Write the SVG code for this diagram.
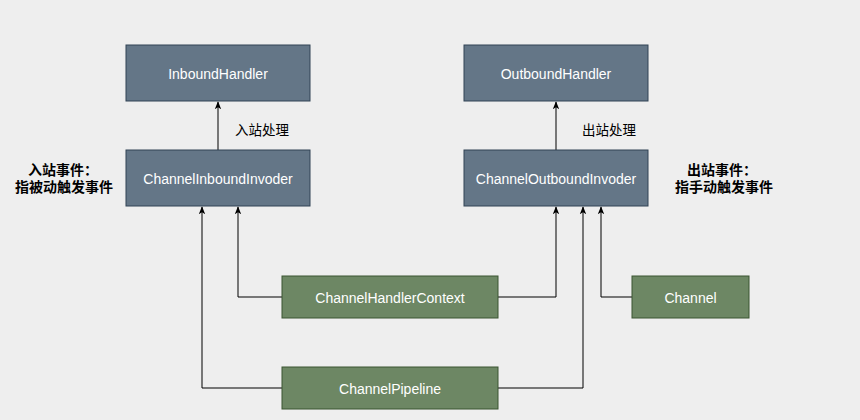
<svg xmlns="http://www.w3.org/2000/svg" width="860" height="420" viewBox="0 0 860 420">
<style>
.blue{fill:#647687;stroke:#314354;stroke-width:1}
.green{fill:#6d8764;stroke:#3a5431;stroke-width:1}
.t{fill:#ffffff;font-family:"Liberation Sans",Arial,sans-serif;font-size:14px;text-anchor:middle;dominant-baseline:central}
.c{fill:none;stroke:#000000;stroke-width:1}
.lbl{fill:#000000;font-family:"Liberation Sans","Noto Sans CJK SC",sans-serif;font-size:13.5px;text-anchor:middle;dominant-baseline:central}
.b{font-weight:bold;font-size:14px}
</style>
<defs>
<marker id="ah" viewBox="0 0 10 10" refX="9" refY="5" markerWidth="8" markerHeight="8" markerUnits="userSpaceOnUse" orient="auto">
<path d="M0,1 L10,5 L0,9 L2.5,5 Z" fill="#000000"/>
</marker>
</defs>
<rect width="860" height="420" fill="#eeeeee"/>
<g id="connectors">
<path class="c" d="M218,150 L218,102" marker-end="url(#ah)"/>
<path class="c" d="M556,150 L556,102" marker-end="url(#ah)"/>
<path class="c" d="M282,297 L238,297 L238,207" marker-end="url(#ah)"/>
<path class="c" d="M282,388 L202,388 L202,207" marker-end="url(#ah)"/>
<path class="c" d="M498,297 L556,297 L556,207" marker-end="url(#ah)"/>
<path class="c" d="M498,388 L583,388 L583,207" marker-end="url(#ah)"/>
<path class="c" d="M632,297 L601,297 L601,207" marker-end="url(#ah)"/>
</g>
<g id="InboundHandler">
<rect class="blue" x="126" y="45" width="184" height="56"/>
<text class="t" x="218" y="74">InboundHandler</text>
</g>
<g id="OutboundHandler">
<rect class="blue" x="464" y="45" width="184" height="56"/>
<text class="t" x="556" y="74">OutboundHandler</text>
</g>
<g id="ChannelInboundInvoder">
<rect class="blue" x="126" y="150" width="184" height="56"/>
<text class="t" x="218" y="179">ChannelInboundInvoder</text>
</g>
<g id="ChannelOutboundInvoder">
<rect class="blue" x="464" y="150" width="184" height="56"/>
<text class="t" x="556" y="179">ChannelOutboundInvoder</text>
</g>
<g id="ChannelHandlerContext">
<rect class="green" x="282" y="276" width="216" height="42"/>
<text class="t" x="390" y="298">ChannelHandlerContext</text>
</g>
<g id="ChannelPipeline">
<rect class="green" x="282" y="367" width="216" height="42"/>
<text class="t" x="390" y="389">ChannelPipeline</text>
</g>
<g id="Channel">
<rect class="green" x="632" y="276" width="117" height="42"/>
<text class="t" x="690.5" y="298">Channel</text>
</g>
<g id="labels">
<text class="lbl" x="262" y="130">入站处理</text>
<text class="lbl" x="609" y="130">出站处理</text>
<text class="lbl b" x="63" y="170">入站事件：</text>
<text class="lbl b" x="64" y="187">指被动触发事件</text>
<text class="lbl b" x="722" y="170">出站事件：</text>
<text class="lbl b" x="724" y="187">指手动触发事件</text>
</g>
</svg>
